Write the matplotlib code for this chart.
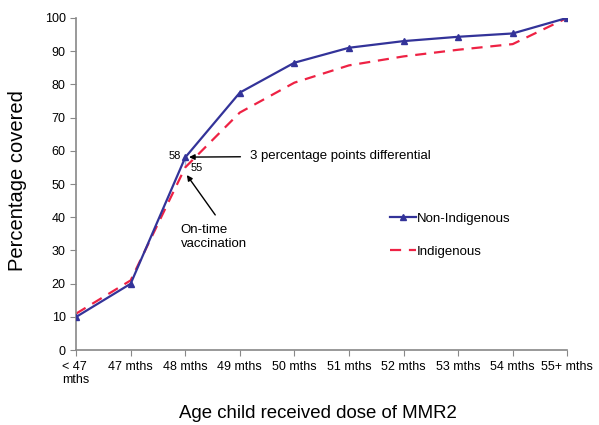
import numpy as np
import matplotlib.pyplot as plt

plt.rcParams['font.family'] = ['Liberation Sans', 'DejaVu Sans']

categories = ['< 47\nmths', '47 mths', '48 mths', '49 mths', '50 mths',
              '51 mths', '52 mths', '53 mths', '54 mths', '55+ mths']
non_indigenous = [10, 20, 58, 77.5, 86.5, 91, 93, 94.3, 95.3, 100]
indigenous = [11, 21, 55, 71.5, 80.5, 85.7, 88.4, 90.4, 92.1, 100]

fig = plt.figure(figsize=(5.99, 4.25), dpi=100)
ax = fig.add_axes([0.127, 0.176, 0.82, 0.782])
x = np.arange(len(categories))

ax.plot(x, indigenous, color='#ee2244', lw=1.6, dashes=(5, 3.5), label='Indigenous', zorder=2)
ax.plot(x, non_indigenous, color='#333399', lw=1.6, marker='^', ms=4.5, label='Non-Indigenous', zorder=3)
# drop line between the two series at 48 mths
ax.plot([2, 2], [indigenous[2], non_indigenous[2]], color='#99bbdd', lw=1, zorder=1)

ax.set_xlim(0, len(categories) - 1)
ax.set_ylim(0, 100)
ax.set_yticks(range(0, 101, 10))
ax.set_xticks(x)
ax.set_xticklabels(categories, fontsize=9, ha='center')
ax.get_xticklabels()[0].set_multialignment('left')
ax.tick_params(axis='y', labelsize=9, direction='out', length=4, color='#888888')
ax.tick_params(axis='x', direction='out', length=4, color='#888888')
for s in ['top', 'right']:
    ax.spines[s].set_visible(False)
for s in ['left', 'bottom']:
    ax.spines[s].set_color('#888888')
    ax.spines[s].set_linewidth(1.2)

fig.text(0.029, 0.576, 'Percentage covered', fontsize=14.5, rotation=90, ha='center', va='center')
fig.text(0.531, 0.026, 'Age child received dose of MMR2', fontsize=13.4, ha='center', va='center')

ax.text(1.92, non_indigenous[2] + 0.4, '58', fontsize=8, ha='right', va='center')
ax.text(2.1, indigenous[2] - 0.2, '55', fontsize=8, ha='left', va='center')
ax.annotate('3 percentage points differential', xy=(2.07, 58.1), xytext=(3.19, 58.4),
            fontsize=9.5, va='center',
            arrowprops=dict(arrowstyle='-|>', color='black', lw=1, mutation_scale=8,
                            shrinkA=5, shrinkB=0))
ax.annotate('', xy=(2.03, 52.7), xytext=(2.55, 40.7),
            arrowprops=dict(arrowstyle='-|>', color='black', lw=1, mutation_scale=8,
                            shrinkA=0, shrinkB=0))
ax.text(1.92, 34.0, 'On-time\nvaccination', fontsize=9.5, ha='left', va='center')

handles, labels = ax.get_legend_handles_labels()
ax.legend(handles[::-1], labels[::-1], loc='center left', bbox_to_anchor=(0.615, 0.346),
          frameon=False, fontsize=9.5, handlelength=2.0, handletextpad=0.05,
          labelspacing=1.6)

fig.savefig('out.png', dpi=100)
